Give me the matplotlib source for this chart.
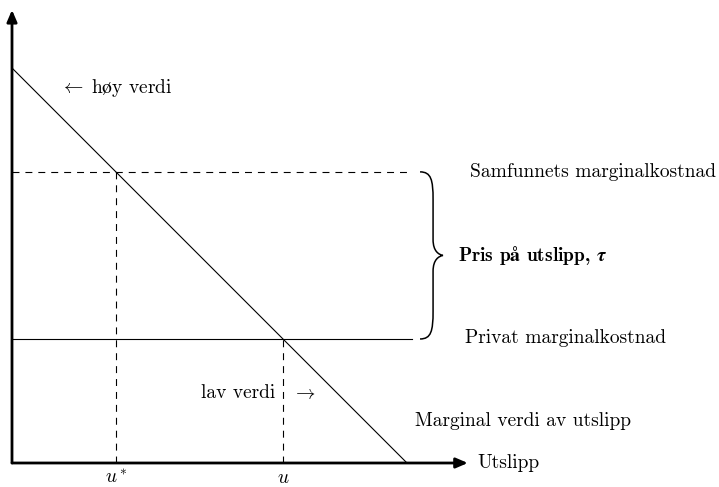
import numpy as np
import matplotlib.pyplot as plt
from matplotlib.path import Path
from matplotlib.patches import PathPatch

plt.rcParams['mathtext.fontset'] = 'cm'
plt.rcParams['lines.scale_dashes'] = False

# diagram values (1 unit ~ 39.5 px)
demand_intercept = 10.0       # marginal verdi hits both axes here
social_mc = 7.37              # samfunnets marginalkostnad
private_mc = 3.14             # privat marginalkostnad
x_axis_end, y_axis_end = 11.54, 11.47
mc_line_end = 10.12

u_star = demand_intercept - social_mc
u_priv = demand_intercept - private_mc

labels = {
    'social': 'Samfunnets marginalkostnad',
    'private': 'Privat marginalkostnad',
    'demand': 'Marginal verdi av utslipp',
    'tax': r'Pris p$\mathbf{å}$ utslipp, $\boldsymbol{\tau}$',
    'high': r'$\leftarrow\;$h$\mathrm{ø}$y verdi',
    'low': 'lav verdi',
    'xlabel': 'Utslipp',
}

fam = ['cmr10', 'DejaVu Serif']
fs = 14

fig = plt.figure(figsize=(7.19, 4.87), dpi=100)
ax = fig.add_axes([0, 0, 1, 1])
ax.set_xlim(-12 / 39.5, 707 / 39.5)
ax.set_ylim(-24 / 39.5, 463 / 39.5)
ax.axis('off')

# axes with arrows
arrow = dict(arrowstyle='-|>,head_length=0.7,head_width=0.3', lw=2, color='black',
             shrinkA=0, shrinkB=0)
ax.annotate('', xy=(x_axis_end, 0), xytext=(0, 0), arrowprops=arrow)
ax.annotate('', xy=(0, y_axis_end), xytext=(0, 0), arrowprops=arrow)

# marginal value line
ax.plot([0, demand_intercept], [demand_intercept, 0], color='black', lw=0.8)

# cost lines
ax.plot([0, mc_line_end], [social_mc, social_mc], color='black', lw=0.8, dashes=(5, 4.3))
ax.plot([0, mc_line_end], [private_mc, private_mc], color='black', lw=0.8)

# dashed drop lines
ax.plot([u_star, u_star], [0, social_mc], color='black', lw=0.8, dashes=(5, 4.3))
ax.plot([u_priv, u_priv], [0, private_mc], color='black', lw=0.8, dashes=(5, 4.3))

# curly brace between the two cost levels
x0, x1, x2 = 10.33, 10.66, 10.91
top, bot = social_mc, private_mc
mid = (top + bot) / 2
r1, r2 = 0.7, 0.4
verts = [
    (x0, top),
    (x1 - 0.05, top), (x1, top - 0.2), (x1, top - r1),
    (x1, mid + r2),
    (x1, mid + 0.1), (x2 - 0.1, mid + 0.02), (x2, mid),
    (x2 - 0.1, mid - 0.02), (x1, mid - 0.1), (x1, mid - r2),
    (x1, bot + r1),
    (x1, bot + 0.2), (x1 - 0.05, bot), (x0, bot),
]
codes = [Path.MOVETO,
         Path.CURVE4, Path.CURVE4, Path.CURVE4,
         Path.LINETO,
         Path.CURVE4, Path.CURVE4, Path.CURVE4,
         Path.CURVE4, Path.CURVE4, Path.CURVE4,
         Path.LINETO,
         Path.CURVE4, Path.CURVE4, Path.CURVE4]
ax.add_patch(PathPatch(Path(verts, codes), facecolor='none', edgecolor='black', lw=1.1))

# labels
ax.text(11.6, social_mc, labels['social'], family=fam, fontsize=fs, ha='left', va='center')
ax.text(11.47, private_mc + 0.03, labels['private'], family=fam, fontsize=fs, ha='left', va='center')
ax.text(11.29, mid, labels['tax'], family=['cmb10', 'DejaVu Serif'], fontsize=fs,
        ha='left', va='center')
ax.text(10.2, 1.06, labels['demand'], family=fam, fontsize=fs, ha='left', va='center')
ax.text(1.22, 9.49, labels['high'], family=fam, fontsize=fs, ha='left', va='center')
ax.text(6.66, 1.77, labels['low'], family=fam, fontsize=fs, ha='right', va='center')
ax.text(7.39, 1.77, r'$\rightarrow$', fontsize=fs, ha='center', va='center')
ax.text(11.77, 0, labels['xlabel'], family=fam, fontsize=fs, ha='left', va='center')
ax.text(u_star, -0.14, r'$u^*$', fontsize=fs, ha='center', va='top')
ax.text(u_priv, -0.12, r'$u$', fontsize=fs, ha='center', va='top')

plt.savefig('out.png', dpi=100)
